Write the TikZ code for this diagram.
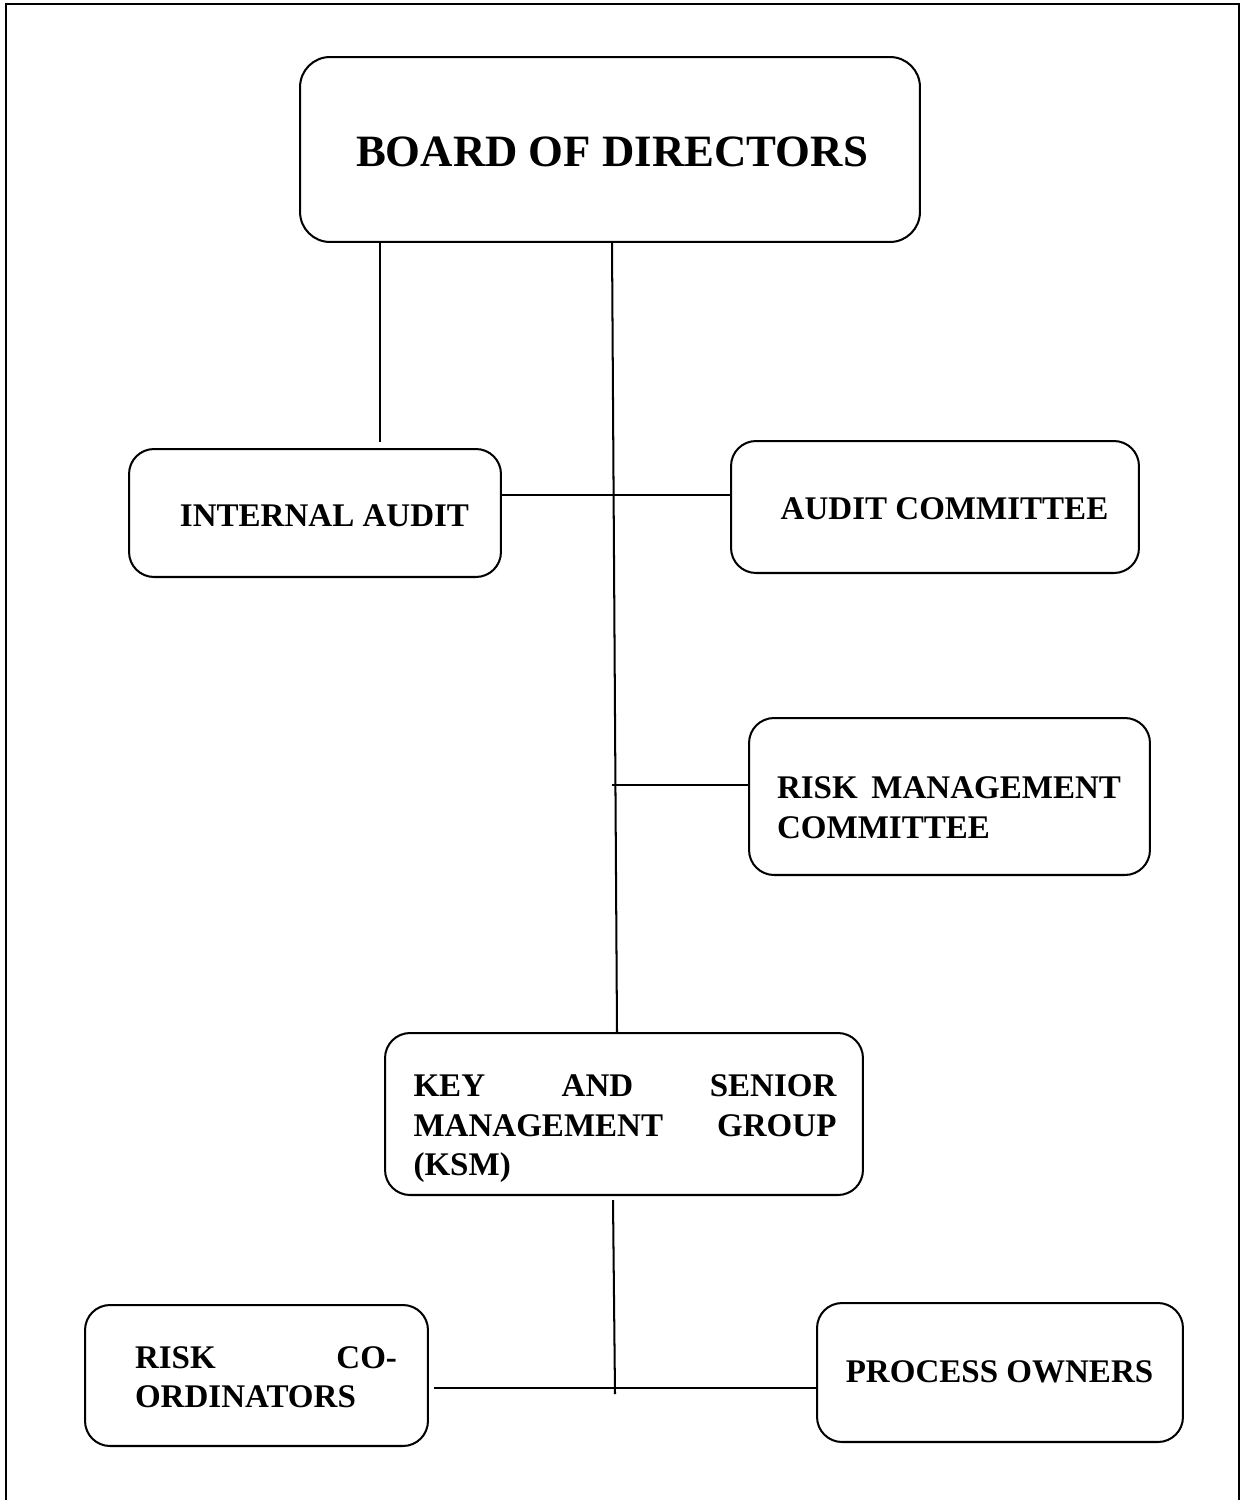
\documentclass[tikz,border=0pt]{standalone}
\usepackage{fontspec}
\setmainfont{Liberation Serif}
\usetikzlibrary{positioning}

\newcommand{\fullline}[1]{\leavevmode\hbox to\hsize{#1}}

\begin{document}
\begin{tikzpicture}[x=0.02cm, y=-0.02cm, line width=1.15pt,
  box/.style={draw, rounded corners=0.5cm, inner sep=0pt, outer sep=0pt},
  txt/.style={inner sep=0pt, font=\fontsize{18.8}{22.5}\selectfont\bfseries},
  ]

\useasboundingbox (0,0) rectangle (1243,1500);

% frame
\draw (6,1500) -- (6,4) -- (1239,4) -- (1239,1500);

% boxes
\node[box, rounded corners=0.6cm, minimum width=12.4cm, minimum height=3.7cm] (board) at (610,149.5) {};
\node[box, minimum width=7.44cm, minimum height=2.56cm] (ia) at (315,513) {};
\node[box, minimum width=8.16cm, minimum height=2.64cm] (ac) at (935,507) {};
\node[box, minimum width=8.02cm, minimum height=3.14cm] (rmc) at (949.5,796.5) {};
\node[box, minimum width=9.56cm, minimum height=3.24cm] (ksm) at (624,1114) {};
\node[box, minimum width=6.86cm, minimum height=2.82cm] (rc) at (256.5,1375.5) {};
\node[box, minimum width=7.32cm, minimum height=2.78cm] (po) at (1000,1372.5) {};

% texts
\node[txt, font=\fontsize{25.5}{30}\selectfont\bfseries] (boardtxt) at (612,152) {BOARD OF DIRECTORS};
\node[txt] (iatxt) at (324.5,516) {INTERNAL AUDIT};
\node[txt] (actxt) at (944.5,509) {AUDIT COMMITTEE};
\node[txt, text width=6.88cm, align=left] (rmctxt) at (949,807.5)
  {\fullline{RISK\hfill MANAGEMENT}\\COMMITTEE};
\node[txt, text width=8.46cm, align=left] (ksmtxt) at (625,1129)
  {\fullline{KEY\hfill AND\hfill SENIOR}\\
   \fullline{MANAGEMENT\hfill GROUP}\\(KSM)};
\node[txt, text width=5.24cm, align=left] (rctxt) at (266,1377)
  {\fullline{RISK\hfill CO-}\\ORDINATORS};
\node[txt] (potxt) at (999.5,1372) {PROCESS OWNERS};

% lines
\coordinate (iatop) at (380,442);
\coordinate (spinetop) at (612,242);
\coordinate (spinebot) at (617,1033);
\coordinate (iajoin) at (501,495);
\coordinate (rmcjoin) at (612,785);
\coordinate (ksmtail) at (613,1200);
\coordinate (ksmbot) at (615,1394);
\coordinate (rcjoin) at (434,1388);

\draw (board.south -| iatop) -- (iatop);
\draw (spinetop) -- (spinebot);
\draw (iajoin) -- (ac.west |- iajoin);
\draw (rmcjoin) -- (rmc.west |- rmcjoin);
\draw (ksmtail) -- (ksmbot);
\draw (rcjoin) -- (po.west |- rcjoin);

\end{tikzpicture}
\end{document}
